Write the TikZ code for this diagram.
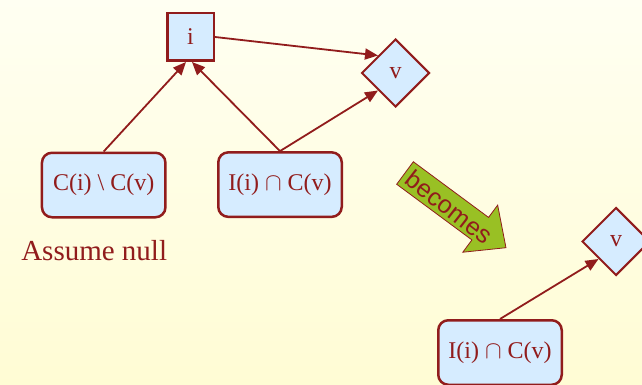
\documentclass[tikz,border=0pt]{standalone}
\usepackage{fontspec}
\setmainfont{Liberation Serif}
\newfontfamily\arialfont{Liberation Sans}
\usetikzlibrary{shapes.geometric,arrows.meta}
\definecolor{dred}{RGB}{145,28,28}
\definecolor{lblue}{RGB}{214,236,255}
\definecolor{bgtop}{RGB}{255,255,242}
\definecolor{bgbot}{RGB}{255,252,212}
\definecolor{agreen}{RGB}{153,192,36}
\newcommand{\capsym}{\ensuremath{\cap}}
\tikzset{
  sqbox/.style={draw=dred, fill=lblue, line width=2.5pt, minimum width=46.5pt, minimum height=47.5pt, inner sep=0pt, text=dred, font=\fontsize{24}{26}\selectfont},
  rbox/.style={draw=dred, fill=lblue, line width=2.5pt, rounded corners=10pt, minimum width=123.5pt, minimum height=64.5pt, inner sep=0pt, text=dred, font=\fontsize{24}{26}\selectfont},
  dia/.style={diamond, draw=dred, fill=lblue, line width=2pt, minimum width=68pt, minimum height=68pt, inner sep=0pt, text=dred, font=\fontsize{24}{26}\selectfont},
  conn/.style={draw=dred, line width=1.8pt, -{Triangle[length=13pt,width=11pt]}},
  lbl/.style={text=dred, inner sep=0pt, font=\fontsize{29}{32}\selectfont}
}
\begin{document}
\begin{tikzpicture}[x=1pt,y=-1pt]
\useasboundingbox (0,0) rectangle (642,385);
\clip (0,0) rectangle (642,385);
\shade[top color=bgtop, bottom color=bgbot] (0,0) rectangle (642,385);

\node[sqbox] (i) at (190.5,37) {i};
\node[dia] (v) at (395.5,73) {v};
\node[rbox] (c) at (103.7,185) {C(i) \textbackslash\ C(v)};
\node[rbox] (ic) at (280,184.6) {I(i) \capsym\ C(v)};
\node[lbl, anchor=base] (an) at (94.2,260) {Assume null};

\node[dia] (v2) at (616,241.5) {v};
\node[rbox] (ic2) at (500,352.5) {I(i) \capsym\ C(v)};

\draw[conn] (c.north) -- ([xshift=-4.5pt]i.south);
\draw[conn] (ic.north) -- ([xshift=1.5pt]i.south);
\draw[conn] (ic.north) -- (v.south west);
\draw[conn] (i.east) -- (v.north west);
\draw[conn] (ic2.north) -- (v2.south west);

% becomes arrow
\begin{scope}[shift={(405,173)}, rotate=-36.5]
  \draw[draw=dred, line width=0.8pt, fill=agreen, line join=miter]
    (0,-14) -- (93.6,-14) -- (93.6,-29.3) -- (125.6,0) -- (93.6,29.3) -- (93.6,14) -- (0,14) -- cycle;
  \node[text=dred, inner sep=0pt, rotate=-38, font=\arialfont\fontsize{25}{27}\selectfont] (bec) at (56,1) {becomes};
\end{scope}
\end{tikzpicture}
\end{document}
